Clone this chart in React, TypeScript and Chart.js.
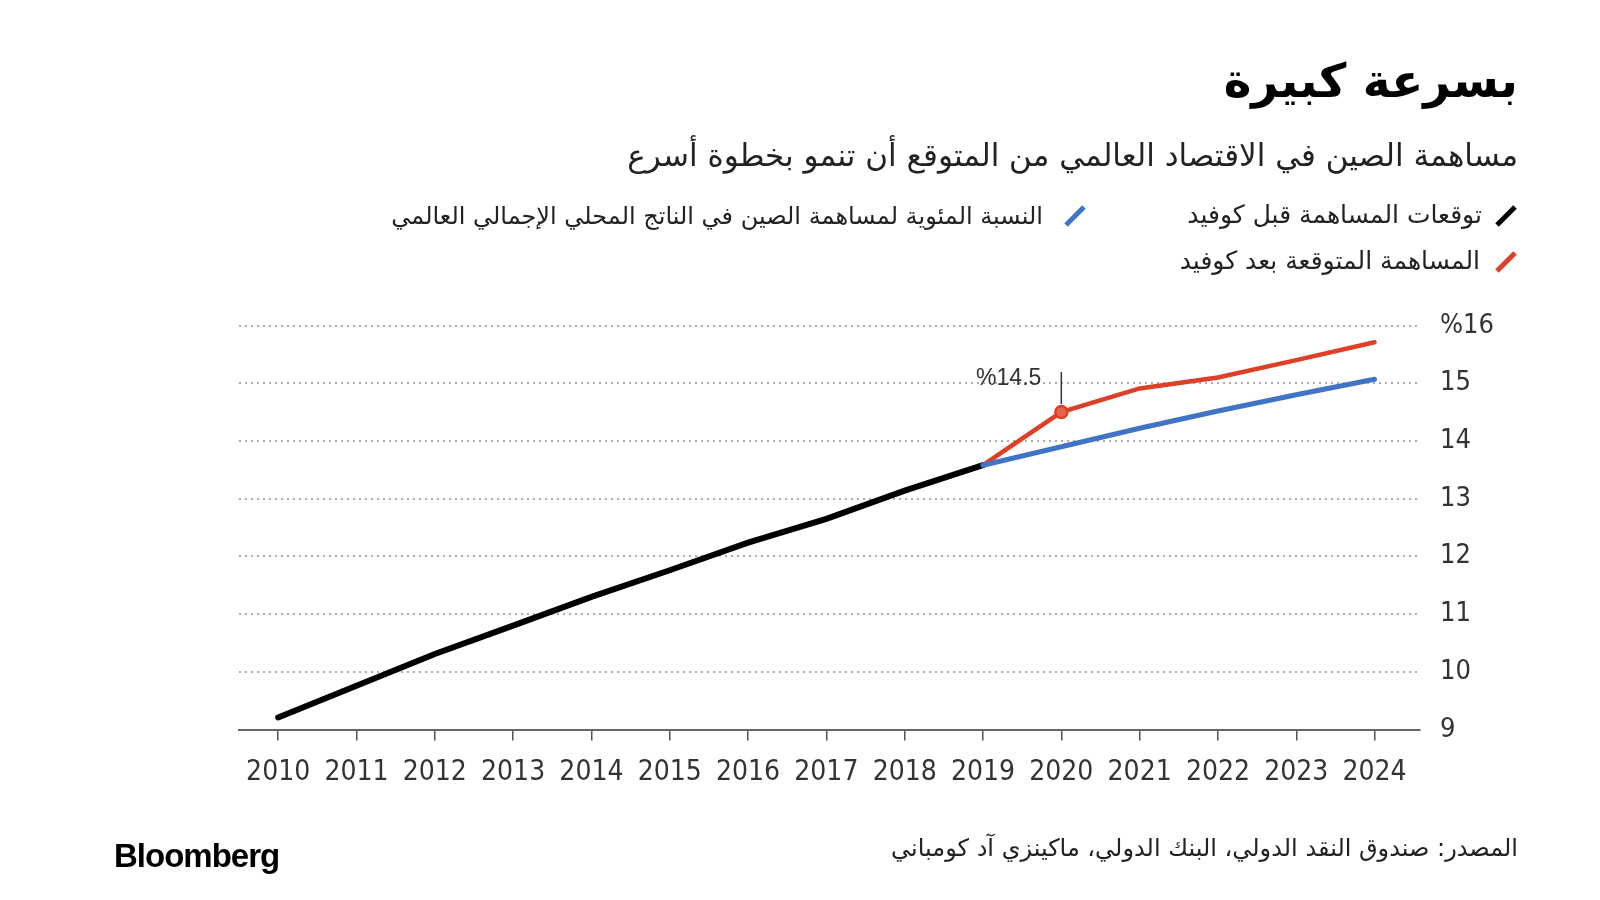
import React, { useEffect, useRef } from "react";
import { Chart, registerables } from "chart.js";

Chart.register(...registerables);

const years = [2010, 2011, 2012, 2013, 2014, 2015, 2016, 2017, 2018, 2019, 2020, 2021, 2022, 2023, 2024];
const preCovidYears = [2010, 2011, 2012, 2013, 2014, 2015, 2016, 2017, 2018, 2019];
const preCovidShare = [9.21, 9.76, 10.31, 10.8, 11.3, 11.76, 12.24, 12.65, 13.14, 13.58];
const forecastYears = [2019, 2020, 2021, 2022, 2023, 2024];
const preCovidForecast = [13.58, 13.9, 14.22, 14.52, 14.8, 15.07];
const postCovidForecast = [13.58, 14.5, 14.91, 15.1, 15.4, 15.71];
const yTicks = [9, 10, 11, 12, 13, 14, 15, 16];
const annotationYear = 2020;
const annotationValue = 14.5;
const annotationLabel = "%14.5";

const title = "بسرعة كبيرة";
const subtitle = "مساهمة الصين في الاقتصاد العالمي من المتوقع أن تنمو بخطوة أسرع";
const legendBlack = "توقعات المساهمة قبل كوفيد";
const legendBlue = "النسبة المئوية لمساهمة الصين في الناتج المحلي الإجمالي العالمي";
const legendRed = "المساهمة المتوقعة بعد كوفيد";
const source = "المصدر: صندوق النقد الدولي، البنك الدولي، ماكينزي آد كومباني";

const BLACK = "#000000";
const BLUE = "#4274c6";
const RED = "#dd3f27";
const AR_FONT = '"DejaVu Sans", sans-serif';
const NUM_FONT = '"DejaVu Sans Condensed", "DejaVu Sans", sans-serif';

const toPoints = (xs: number[], ys: number[]) => xs.map((x, i) => ({ x, y: ys[i] }));

const annotationPlugin = {
  id: "annot",
  afterDatasetsDraw(chart: any) {
    const { ctx, scales } = chart;
    const x = scales.x.getPixelForValue(annotationYear);
    const y = scales.y.getPixelForValue(annotationValue);
    ctx.save();
    ctx.strokeStyle = "#333";
    ctx.lineWidth = 1.5;
    ctx.beginPath();
    ctx.moveTo(x, y - 8);
    ctx.lineTo(x, y - 40);
    ctx.stroke();
    ctx.fillStyle = "#333";
    ctx.font = '23px "Liberation Sans", Arial, sans-serif';
    ctx.textAlign = "right";
    ctx.textBaseline = "middle";
    ctx.fillText(annotationLabel, x - 20, y - 33);
    ctx.restore();
  },
};

function LegendIcon({ color, left, top }: { color: string; left: number; top: number }) {
  return (
    <svg width={26} height={26} style={{ position: "absolute", left, top }}>
      <line x1={4} y1={22} x2={22} y2={4} stroke={color} strokeWidth={5} strokeLinecap="butt" />
    </svg>
  );
}

const textStyle = (right: number, top: number, size: number, lh: number): React.CSSProperties => ({
  position: "absolute",
  right,
  top,
  fontFamily: AR_FONT,
  fontSize: size,
  lineHeight: `${lh}px`,
  color: "#222",
  whiteSpace: "nowrap",
});

export default function App() {
  const ref = useRef<HTMLCanvasElement | null>(null);

  useEffect(() => {
    if (!ref.current) return;
    const chart = new Chart(ref.current, {
      type: "line",
      data: {
        datasets: [
          {
            data: toPoints(forecastYears, preCovidForecast),
            borderColor: BLUE,
            borderWidth: 5,
            borderCapStyle: "round",
            pointRadius: 0,
            tension: 0,
          },
          {
            data: toPoints(forecastYears, postCovidForecast),
            borderColor: RED,
            borderWidth: 4.5,
            borderCapStyle: "round",
            pointRadius: forecastYears.map((y) => (y === annotationYear ? 6 : 0)),
            pointBackgroundColor: "#e8644f",
            pointBorderColor: RED,
            pointBorderWidth: 2.5,
            tension: 0,
          },
          {
            data: toPoints(preCovidYears, preCovidShare),
            borderColor: BLACK,
            borderWidth: 6,
            borderCapStyle: "round",
            pointRadius: 0,
            tension: 0,
          },
        ],
      },
      options: {
        animation: false,
        responsive: false,
        layout: { padding: { left: 239, top: 325.5, right: 0, bottom: 110.4 } },
        plugins: { legend: { display: false }, tooltip: { enabled: false } },
        scales: {
          x: {
            type: "linear",
            min: 2009.5,
            max: 2024.58,
            afterBuildTicks: (scale: any) => {
              scale.ticks = years.map((v) => ({ value: v }));
            },
            afterFit: (scale: any) => {
              scale.height = 60;
            },
            grid: {
              drawOnChartArea: false,
              drawTicks: true,
              tickLength: 11,
              color: "#555",
              lineWidth: 1.5,
            },
            border: { display: true, color: "#666", width: 2 },
            ticks: {
              padding: 15,
              color: "#333",
              font: { family: NUM_FONT, size: 28 },
              callback: (v: any) => String(v),
              maxRotation: 0,
              autoSkip: false,
            },
          },
          y: {
            position: "right",
            min: 9,
            max: 16,
            afterBuildTicks: (scale: any) => {
              scale.ticks = yTicks.map((v) => ({ value: v }));
            },
            afterFit: (scale: any) => {
              scale.width = 180;
            },
            grid: {
              drawTicks: false,
              lineWidth: 2,
              color: (c: any) => (c.tick && c.tick.value === 9 ? "rgba(0,0,0,0)" : "#ababab"),
            },
            border: { display: false, dash: [2, 4] },
            ticks: {
              padding: 20,
              color: "#333",
              font: { family: NUM_FONT, size: 27 },
              callback: (v: any) => (v === 16 ? "%16" : String(v)),
            },
          },
        },
      },
      plugins: [annotationPlugin],
    } as any);
    return () => chart.destroy();
  }, []);

  return (
    <div
      style={{
        position: "fixed",
        left: 0,
        top: 0,
        width: 1600,
        height: 900,
        background: "#fff",
        overflow: "hidden",
      }}
    >
      <canvas ref={ref} width={1600} height={900} style={{ position: "absolute", left: 0, top: 0 }} />
      <div
        dir="rtl"
        style={{
          position: "absolute",
          right: 82,
          top: 49,
          fontFamily: AR_FONT,
          fontWeight: 700,
          fontSize: 47,
          lineHeight: "64px",
          color: "#000",
          whiteSpace: "nowrap",
        }}
      >
        {title}
      </div>
      <div dir="rtl" style={textStyle(82, 136, 31, 38)}>
        {subtitle}
      </div>
      <LegendIcon color={BLACK} left={1493} top={203} />
      <div dir="rtl" style={textStyle(118, 200, 25, 30)}>
        {legendBlack}
      </div>
      <LegendIcon color={BLUE} left={1062} top={203} />
      <div dir="rtl" style={textStyle(557, 201, 24, 30)}>
        {legendBlue}
      </div>
      <LegendIcon color={RED} left={1493} top={249} />
      <div dir="rtl" style={textStyle(120, 246, 25, 30)}>
        {legendRed}
      </div>
      <div dir="rtl" style={textStyle(82, 833, 24, 30)}>
        {source}
      </div>
      <div
        style={{
          position: "absolute",
          left: 114,
          top: 838,
          fontFamily: '"Liberation Sans", Arial, sans-serif',
          fontWeight: 700,
          fontSize: 33,
          letterSpacing: -1,
          lineHeight: "36px",
          color: "#000",
        }}
      >
        Bloomberg
      </div>
    </div>
  );
}
